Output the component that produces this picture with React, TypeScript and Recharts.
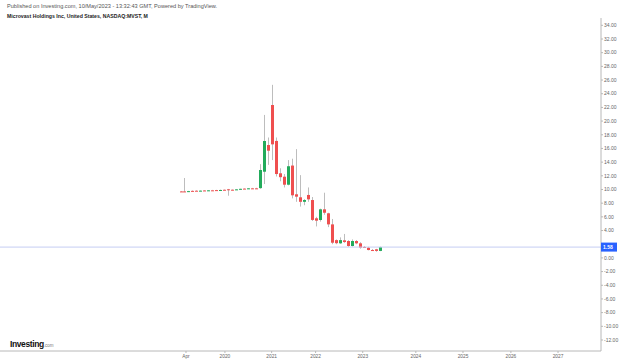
import React from 'react';
import { ComposedChart, Bar, XAxis, YAxis, ReferenceLine } from 'recharts';

// Monthly candles, Mar 2019 .. May 2023
const months = [
  '2019-03','2019-04','2019-05','2019-06','2019-07','2019-08','2019-09','2019-10','2019-11','2019-12',
  '2020-01','2020-02','2020-03','2020-04','2020-05','2020-06','2020-07','2020-08','2020-09','2020-10',
  '2020-11','2020-12','2021-01','2021-02','2021-03','2021-04','2021-05','2021-06','2021-07','2021-08',
  '2021-09','2021-10','2021-11','2021-12','2022-01','2022-02','2022-03','2022-04','2022-05','2022-06',
  '2022-07','2022-08','2022-09','2022-10','2022-11','2022-12','2023-01','2023-02','2023-03','2023-04',
  '2023-05',
];
const opens = [
  9.72, 9.72, 9.70, 9.80, 9.82, 9.80, 9.86, 9.86, 9.88, 9.91,
  9.91, 9.96, 10.03, 9.97, 9.97, 10.02, 10.13, 10.13, 10.17, 10.17,
  10.20, 12.60, 16.50, 22.35, 17.10, 12.37, 11.87, 10.70, 13.50, 9.30,
  8.86, 8.20, 9.20, 8.46, 5.79, 5.54, 7.10, 6.52, 4.90, 2.60,
  2.13, 2.57, 2.47, 1.74, 2.47, 2.13, 1.60, 1.49, 1.15, 1.26,
  1.02,
];
const highs = [
  9.78, 11.68, 9.80, 9.86, 9.88, 9.86, 9.90, 9.92, 9.94, 9.95,
  9.98, 10.00, 10.08, 10.00, 10.05, 10.12, 10.16, 10.20, 10.23, 10.25,
  13.70, 20.90, 17.60, 25.30, 17.60, 13.10, 12.26, 14.30, 14.50, 15.90,
  12.10, 8.60, 10.30, 8.90, 6.00, 7.20, 9.53, 6.60, 5.69, 2.70,
  3.00, 3.50, 2.60, 2.70, 2.60, 2.30, 1.72, 1.62, 1.30, 1.32,
  1.65,
];
const lows = [
  9.66, 9.62, 9.66, 9.72, 9.78, 9.76, 9.80, 9.82, 9.84, 9.83,
  9.87, 9.90, 9.09, 9.88, 9.93, 9.98, 10.06, 10.10, 10.12, 10.10,
  10.10, 10.80, 13.60, 14.30, 11.90, 11.20, 10.30, 10.60, 8.70, 8.20,
  7.50, 7.70, 8.20, 5.40, 4.60, 5.30, 6.30, 4.50, 2.00, 2.00,
  2.05, 2.20, 1.60, 1.65, 2.00, 1.35, 1.45, 1.10, 1.05, 0.90,
  0.98,
];
const closes = [
  9.70, 9.70, 9.76, 9.76, 9.80, 9.83, 9.83, 9.88, 9.86, 9.88,
  9.93, 9.93, 9.93, 9.95, 10.02, 10.10, 10.10, 10.17, 10.15, 10.12,
  12.85, 17.09, 15.67, 16.60, 12.26, 11.80, 10.70, 13.40, 9.15, 8.95,
  8.20, 8.46, 8.56, 5.55, 5.44, 7.10, 6.60, 4.90, 2.22, 2.15,
  2.60, 2.32, 1.74, 2.47, 2.13, 1.49, 1.52, 1.15, 1.13, 1.02,
  1.58,
];

const lastClose = 1.58;
const yTicks = [-12, -10, -8, -6, -4, -2, 0, 2, 4, 6, 8, 10, 12, 14, 16, 18, 20, 22, 24, 26, 28, 30, 32, 34];
const xTickValues = [1.25, 11, 22.7, 33.7, 45.5, 58.8, 70.6, 82.6, 94.4];
const xTickLabels = ['Apr', '2020', '2021', '2022', '2023', '2024', '2025', '2026', '2027'];

const UP = '#22ab5b';
const DOWN = '#ef4f4f';
const WICK = '#bdbdbd';
const FONT = '"Liberation Sans", Arial, sans-serif';

const data = months.map((m, i) => ({
  month: m,
  idx: i,
  open: opens[i],
  high: highs[i],
  low: lows[i],
  close: closes[i],
  range: [lows[i], highs[i]],
}));

const Candle = (props: any) => {
  const { x, y, width, height, payload } = props;
  if (!payload) return null;
  const { open, close, high, low } = payload;
  const top = Math.min(y, y + height);
  const h = Math.abs(height);
  const k = h / (high - low);
  const bTop = top + (high - Math.max(open, close)) * k;
  let bBot = top + (high - Math.min(open, close)) * k;
  if (bBot - bTop < 1) bBot = bTop + 1;
  const cx = Math.round(x + width / 2);
  const color = close >= open ? UP : DOWN;
  return (
    <g>
      <line x1={cx + 0.5} x2={cx + 0.5} y1={top} y2={top + h} stroke={WICK} strokeWidth={1} />
      <rect x={cx - 1} y={bTop} width={3} height={bBot - bTop} fill={color} />
    </g>
  );
};

const YTick = (props: any) => {
  const { x, y, payload } = props;
  const v = payload.value;
  if (v === lastClose) {
    return (
      <g>
        <rect x={x - 3} y={y - 4.5} width={16} height={9} fill="#2962ff" />
        <text x={x - 1} y={y} dy="0.35em" fontSize={5} fontWeight="bold" fill="#ffffff" fontFamily={FONT}>
          {lastClose.toFixed(2)}
        </text>
      </g>
    );
  }
  if (Math.abs(v - lastClose) < 1) return null;
  return (
    <text x={x} y={y} dy="0.35em" fontSize={5} fill="#666" fontFamily={FONT}>
      {v.toFixed(2)}
    </text>
  );
};

const XTick = (props: any) => {
  const { x, y, payload } = props;
  const i = xTickValues.indexOf(payload.value);
  return (
    <text x={x} y={y} dy="0.75em" fontSize={4.8} fill="#666" textAnchor="middle" fontFamily={FONT}>
      {i >= 0 ? xTickLabels[i] : ''}
    </text>
  );
};

export default function App() {
  return (
    <div style={{ position: 'absolute', left: 0, top: 0, width: 620, height: 361, background: '#fff', fontFamily: FONT }}>
      <div style={{ position: 'absolute', left: 7, top: 3, fontSize: 5.6, color: '#555', whiteSpace: 'nowrap', lineHeight: '7px' }}>
        Published on Investing.com, 10/May/2023 - 13:32:43 GMT, Powered by TradingView.
      </div>
      <div style={{ position: 'absolute', left: 7, top: 13, fontSize: 5.2, fontWeight: 'bold', color: '#222', whiteSpace: 'nowrap', lineHeight: '7px' }}>
        Microvast Holdings Inc, United States, NASDAQ:MVST, M
      </div>
      <ComposedChart
        width={620}
        height={361}
        data={data}
        margin={{ top: 18, right: 0, bottom: 0, left: 0 }}
      >
        <XAxis
          dataKey="idx"
          type="number"
          domain={[-45.32, 105.16]}
          allowDataOverflow
          ticks={xTickValues}
          tick={<XTick />}
          tickSize={2}
          tickMargin={1}
          height={10}
          axisLine={{ stroke: '#b8b8b8' }}
          tickLine={{ stroke: '#b8b8b8' }}
          interval={0}
        />
        <YAxis
          orientation="right"
          type="number"
          domain={[-13.61, 35.07]}
          allowDataOverflow
          ticks={[...yTicks, lastClose]}
          tick={<YTick />}
          tickSize={2}
          tickMargin={1}
          width={19}
          axisLine={{ stroke: '#b8b8b8' }}
          tickLine={{ stroke: '#b8b8b8' }}
          interval={0}
        />
        <ReferenceLine y={lastClose} stroke="#c5cdf3" />
        <Bar dataKey="range" barSize={3} shape={<Candle />} isAnimationActive={false} />
      </ComposedChart>
      <div style={{ position: 'absolute', left: 10, top: 337, whiteSpace: 'nowrap', lineHeight: '10px' }}>
        <span style={{ fontSize: 8.5, fontWeight: 'bold', color: '#111', letterSpacing: -0.4 }}>Investing</span>
        <span style={{ fontSize: 4.5, color: '#777' }}>.com</span>
      </div>
    </div>
  );
}
